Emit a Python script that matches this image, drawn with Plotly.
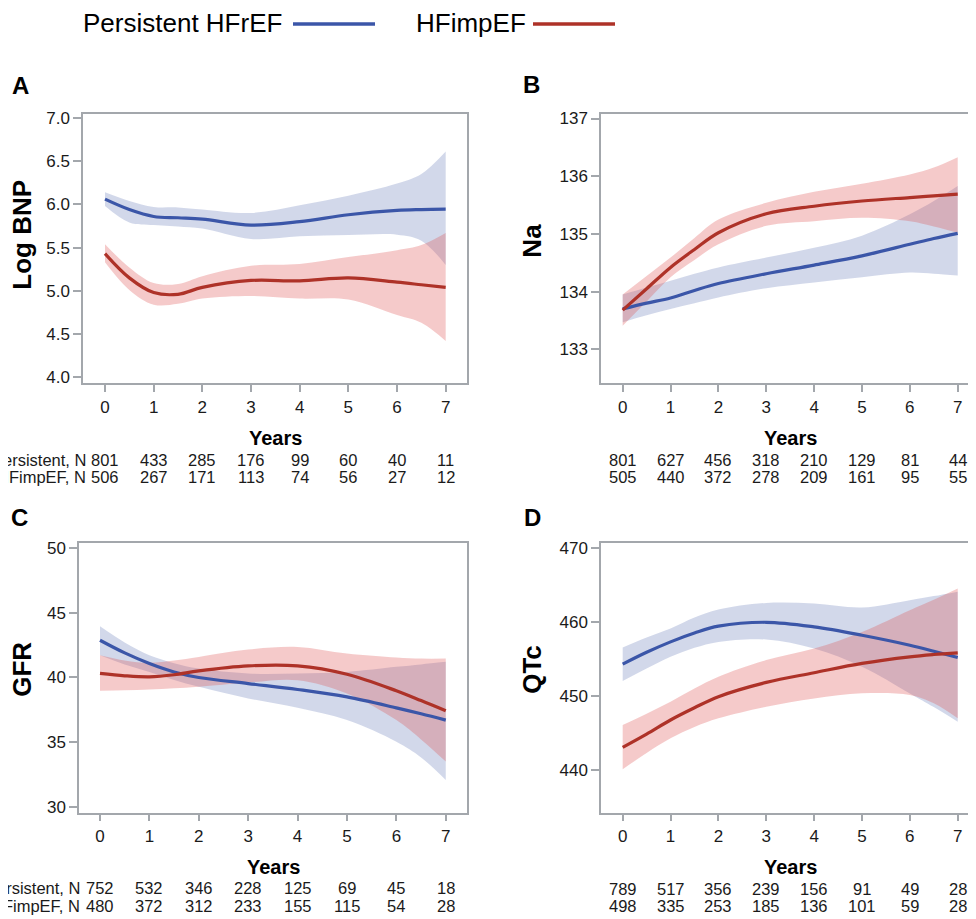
import plotly.graph_objects as go

# page offset: plotly's html page has an 8px body margin
OFF = 8
W, H = 976 - OFF, 919 - OFF

# ---------------- data ----------------
years = [0, 0.5, 1, 1.5, 2, 3, 4, 5, 6, 6.5, 7]
tick_years = [0, 1, 2, 3, 4, 5, 6, 7]

# Panel A: Log BNP
a_pers_mean = [6.06, 5.94, 5.86, 5.845, 5.83, 5.76, 5.80, 5.88, 5.93, 5.94, 5.945]
a_pers_up   = [6.14, 6.04, 5.97, 5.965, 5.94, 5.90, 5.99, 6.10, 6.24, 6.35, 6.61]
a_pers_lo   = [5.98, 5.79, 5.76, 5.745, 5.72, 5.60, 5.63, 5.645, 5.65, 5.58, 5.30]
a_imp_mean  = [5.43, 5.15, 4.98, 4.96, 5.04, 5.12, 5.115, 5.15, 5.10, 5.07, 5.04]
a_imp_up    = [5.54, 5.27, 5.09, 5.08, 5.17, 5.29, 5.31, 5.39, 5.47, 5.53, 5.67]
a_imp_lo    = [5.33, 5.01, 4.84, 4.85, 4.91, 4.94, 4.91, 4.90, 4.72, 4.63, 4.42]

# Panel B: Na
b_pers_mean = [133.70, 133.80, 133.89, 134.02, 134.14, 134.31, 134.46, 134.62, 134.82, 134.92, 135.01]
b_pers_up   = [133.95, 134.07, 134.19, 134.31, 134.42, 134.59, 134.76, 134.97, 135.34, 135.57, 135.83]
b_pers_lo   = [133.47, 133.59, 133.70, 133.80, 133.90, 134.06, 134.16, 134.25, 134.33, 134.31, 134.28]
b_imp_mean  = [133.68, 134.05, 134.42, 134.73, 135.02, 135.35, 135.48, 135.57, 135.63, 135.66, 135.69]
b_imp_up    = [133.95, 134.27, 134.59, 134.93, 135.25, 135.54, 135.73, 135.87, 136.03, 136.15, 136.33]
b_imp_lo    = [133.41, 133.83, 134.25, 134.55, 134.82, 135.14, 135.22, 135.28, 135.22, 135.13, 135.02]

# Panel C: GFR
c_pers_mean = [42.87, 41.89, 41.07, 40.42, 39.99, 39.52, 39.06, 38.49, 37.64, 37.18, 36.69]
c_pers_up   = [43.95, 42.70, 41.71, 41.10, 40.68, 40.30, 40.30, 40.42, 40.81, 41.00, 41.20]
c_pers_lo   = [41.71, 41.00, 40.42, 39.80, 39.27, 38.37, 37.64, 36.69, 35.01, 33.80, 32.06]
c_imp_mean  = [40.30, 40.12, 40.04, 40.20, 40.50, 40.89, 40.89, 40.24, 38.96, 38.20, 37.41]
c_imp_up    = [41.71, 41.30, 41.12, 41.30, 41.58, 42.15, 42.35, 41.84, 41.53, 41.45, 41.45]
c_imp_lo    = [38.96, 39.00, 39.06, 39.15, 39.27, 39.60, 39.78, 38.75, 36.69, 35.20, 33.48]

# Panel D: QTc
d_pers_mean = [454.30, 455.90, 457.31, 458.50, 459.43, 459.96, 459.34, 458.21, 456.86, 456.05, 455.20]
d_pers_up   = [456.55, 457.90, 459.12, 460.60, 461.68, 462.58, 462.49, 461.95, 462.94, 463.50, 464.10]
d_pers_lo   = [452.01, 453.70, 455.29, 456.50, 457.31, 457.63, 456.41, 453.94, 450.34, 448.50, 446.52]
d_imp_mean  = [443.06, 444.85, 446.75, 448.40, 449.90, 451.83, 453.14, 454.40, 455.29, 455.60, 455.83]
d_imp_up    = [446.07, 447.60, 449.22, 451.00, 452.60, 454.85, 456.41, 458.66, 461.59, 463.00, 464.52]
d_imp_lo    = [440.09, 442.30, 444.27, 445.80, 446.97, 448.55, 449.67, 450.35, 450.12, 449.00, 446.97]

# Numbers at risk
a_n_pers = [801, 433, 285, 176, 99, 60, 40, 11]
a_n_imp  = [506, 267, 171, 113, 74, 56, 27, 12]
b_n_pers = [801, 627, 456, 318, 210, 129, 81, 44]
b_n_imp  = [505, 440, 372, 278, 209, 161, 95, 55]
c_n_pers = [752, 532, 346, 228, 125, 69, 45, 18]
c_n_imp  = [480, 372, 312, 233, 155, 115, 54, 28]
d_n_pers = [789, 517, 356, 239, 156, 91, 49, 28]
d_n_imp  = [498, 335, 253, 185, 136, 101, 59, 28]

a_yticks = [4.0, 4.5, 5.0, 5.5, 6.0, 6.5, 7.0]
b_yticks = [133, 134, 135, 136, 137]
c_yticks = [30, 35, 40, 45, 50]
d_yticks = [440, 450, 460, 470]

# ---------------- style ----------------
FONT = "Liberation Sans, Arial, Helvetica, sans-serif"
BLUE = "#3B56A8"
RED = "#AE3228"
BLUE_FILL = "rgba(61,86,166,0.23)"
RED_FILL = "rgba(222,80,80,0.30)"
AXIS_GREY = "#A3A7AC"
TXT = "#1a1a1a"


def px(x):
    return (x - OFF) / W


def py(y):
    y = 1.008 * y - 4.0  # small vertical correction measured from the render
    return 1 - (y - OFF) / H


fig = go.Figure()


def add_panel(ax, mean_p, up_p, lo_p, mean_i, up_i, lo_i):
    xa = "x" if ax == 1 else f"x{ax}"
    ya = "y" if ax == 1 else f"y{ax}"
    for lo, up, fill in [(lo_p, up_p, BLUE_FILL), (lo_i, up_i, RED_FILL)]:
        fig.add_trace(go.Scatter(x=years, y=lo, mode="lines", line=dict(width=0, shape="spline"),
                                 xaxis=xa, yaxis=ya, showlegend=False, hoverinfo="skip"))
        fig.add_trace(go.Scatter(x=years, y=up, mode="lines", line=dict(width=0, shape="spline"),
                                 fill="tonexty", fillcolor=fill,
                                 xaxis=xa, yaxis=ya, showlegend=False, hoverinfo="skip"))
    fig.add_trace(go.Scatter(x=years, y=mean_p, mode="lines", line=dict(color=BLUE, width=3.2, shape="spline"),
                             xaxis=xa, yaxis=ya, showlegend=False, name="Persistent HFrEF"))
    fig.add_trace(go.Scatter(x=years, y=mean_i, mode="lines", line=dict(color=RED, width=3.2, shape="spline"),
                             xaxis=xa, yaxis=ya, showlegend=False, name="HFimpEF"))


add_panel(1, a_pers_mean, a_pers_up, a_pers_lo, a_imp_mean, a_imp_up, a_imp_lo)
add_panel(2, b_pers_mean, b_pers_up, b_pers_lo, b_imp_mean, b_imp_up, b_imp_lo)
add_panel(3, c_pers_mean, c_pers_up, c_pers_lo, c_imp_mean, c_imp_up, c_imp_lo)
add_panel(4, d_pers_mean, d_pers_up, d_pers_lo, d_imp_mean, d_imp_up, d_imp_lo)


def xaxis_cfg(dom, rng, anchor):
    return dict(domain=dom, range=rng, anchor=anchor, tickmode="array", tickvals=tick_years,
                ticks="outside", ticklen=7, tickwidth=1.5, tickcolor=AXIS_GREY,
                showline=True, linecolor=AXIS_GREY, linewidth=1.5, mirror=True,
                showgrid=False, zeroline=False, ticklabelstandoff=0,
                tickfont=dict(family=FONT, size=17, color=TXT))


def yaxis_cfg(dom, rng, tv, fmt, mirror, anchor):
    return dict(domain=dom, range=rng, anchor=anchor, tickmode="array", tickvals=tv, tickformat=fmt,
                ticks="outside", ticklen=8, tickwidth=1.5, tickcolor=AXIS_GREY,
                showline=True, linecolor=AXIS_GREY, linewidth=1.5, mirror=mirror,
                showgrid=False, zeroline=False,
                tickfont=dict(family=FONT, size=17, color=TXT))


top_dom = [py(383), py(113)]
bot_dom = [py(813), py(543)]

fig.update_layout(
    width=W, height=H,
    margin=dict(l=0, r=0, t=0, b=0),
    paper_bgcolor="white", plot_bgcolor="white",
    showlegend=False,
    xaxis=xaxis_cfg([px(83), px(467)], [-0.452, 7.438], "y"),
    yaxis=yaxis_cfg(top_dom, [3.93, 7.046], a_yticks, ".1f", True, "x"),
    xaxis2=xaxis_cfg([px(601), 1.0], [-0.453, 7.382], "y2"),
    yaxis2=yaxis_cfg(top_dom, [132.41, 137.08], b_yticks, "d", False, "x2"),
    xaxis3=xaxis_cfg([px(79), px(467)], [-0.425, 7.43], "y3"),
    yaxis3=yaxis_cfg(bot_dom, [29.54, 50.39], c_yticks, "d", True, "x3"),
    xaxis4=xaxis_cfg([px(601), 1.0], [-0.453, 7.382], "y4"),
    yaxis4=yaxis_cfg(bot_dom, [434.24, 470.67], d_yticks, "d", False, "x4"),
)

ann = []


def text(x, y, t, size, bold=False, angle=0, xanchor="center"):
    ann.append(dict(x=px(x), y=py(y), xref="paper", yref="paper", text=f"<b>{t}</b>" if bold else t,
                    showarrow=False, textangle=angle, xanchor=xanchor, yanchor="middle",
                    font=dict(family=FONT, size=size, color="black")))


# legend (line to the right of the text)
text(81, 22, "Persistent HFrEF", 26, xanchor="left")
text(414, 22, "HFimpEF", 26, xanchor="left")
shapes = [
    dict(type="line", xref="paper", yref="paper", x0=px(293), x1=px(375), y0=py(23), y1=py(23),
         line=dict(color=BLUE, width=3.5)),
    dict(type="line", xref="paper", yref="paper", x0=px(533), x1=px(615), y0=py(23), y1=py(23),
         line=dict(color=RED, width=3.5)),
]

# panel letters
text(20, 85, "A", 24, bold=True)
text(531, 84, "B", 24, bold=True)
text(19, 517, "C", 24, bold=True)
text(532, 517, "D", 24, bold=True)

# axis titles
text(22, 234, "Log BNP", 26, bold=True, angle=-90)
text(532, 240, "Na", 26, bold=True, angle=-90)
text(22, 670, "GFR", 26, bold=True, angle=-90)
text(532, 670, "QTc", 26, bold=True, angle=-90)
text(275, 438, "Years", 20, bold=True)
text(790, 438, "Years", 20, bold=True)
text(273, 868, "Years", 20, bold=True)
text(790, 868, "Years", 20, bold=True)


def risk_row(xa, yref_px, counts, label=None):
    for yr, n in zip(tick_years, counts):
        ann.append(dict(x=yr, y=py(yref_px), xref=xa, yref="paper", text=str(n), showarrow=False,
                        xanchor="center", yanchor="middle",
                        font=dict(family=FONT, size=16.5, color=TXT)))
    if label:
        ann.append(dict(x=tick_years[0], y=py(yref_px), xref=xa, yref="paper", text=label,
                        showarrow=False, xanchor="right", yanchor="middle", xshift=-17.5,
                        font=dict(family=FONT, size=16.5, color=TXT)))


risk_row("x", 460, a_n_pers, "Persistent, N")
risk_row("x", 477, a_n_imp, "HFimpEF, N")
risk_row("x2", 460, b_n_pers)
risk_row("x2", 477, b_n_imp)
risk_row("x3", 889, c_n_pers, "Persistent, N")
risk_row("x3", 907, c_n_imp, "HFimpEF, N")
risk_row("x4", 890, d_n_pers)
risk_row("x4", 907, d_n_imp)

fig.update_layout(annotations=ann, shapes=shapes)

fig.write_html("out.html")
